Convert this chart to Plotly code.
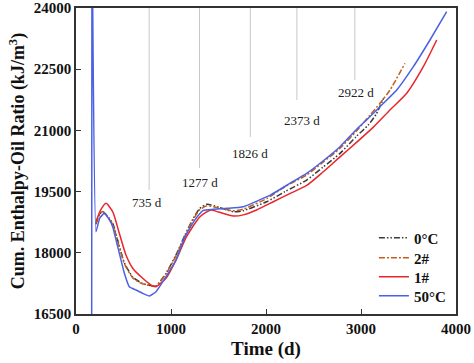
import plotly.graph_objects as go

# ---- data ----
t_0C = [210, 250, 281, 330, 386, 440, 510, 600, 700, 800, 842, 947, 1053, 1150, 1235, 1300, 1376, 1500, 1656, 1761, 2007, 2200, 2428, 2600, 2779, 2950, 3077, 3160, 3240]
y_0C = [18700, 18950, 19007, 18900, 18723, 18300, 17750, 17400, 17250, 17190, 17186, 17498, 17950, 18450, 18846, 19080, 19189, 19120, 19007, 19032, 19252, 19500, 19784, 20100, 20437, 20850, 21132, 21400, 21800]

t_2 = [210, 250, 281, 330, 386, 440, 510, 600, 700, 800, 842, 947, 1053, 1150, 1235, 1300, 1376, 1500, 1656, 1761, 2007, 2200, 2428, 2600, 2779, 2950, 3095, 3200, 3305, 3463]
y_2 = [18720, 18960, 19010, 18880, 18700, 18280, 17730, 17380, 17240, 17190, 17190, 17480, 17930, 18430, 18820, 19050, 19150, 19100, 19030, 19070, 19330, 19620, 19907, 20220, 20561, 20980, 21377, 21664, 21990, 22645]

t_1 = [210, 260, 316, 386, 456, 526, 597, 702, 807, 842, 947, 1053, 1165, 1305, 1420, 1500, 1656, 1761, 1900, 2077, 2250, 2428, 2600, 2779, 2950, 3130, 3305, 3481, 3656, 3797]
y_1 = [18762, 19050, 19213, 19007, 18477, 17946, 17621, 17375, 17186, 17169, 17375, 17824, 18400, 18885, 19049, 19000, 18902, 18930, 19050, 19252, 19450, 19650, 19980, 20350, 20700, 21080, 21500, 21909, 22562, 23216]

t_50 = [165, 168, 210, 250, 298, 340, 386, 439, 509, 561, 632, 702, 772, 842, 947, 1053, 1147, 1250, 1340, 1445, 1600, 1761, 2050, 2250, 2428, 2600, 2779, 2955, 3077, 3200, 3376, 3551, 3726, 3902]
y_50 = [16000, 26000, 18517, 18850, 18968, 18850, 18640, 18150, 17498, 17169, 17088, 17007, 16941, 17047, 17415, 17824, 18395, 18800, 19040, 19066, 19090, 19130, 19420, 19700, 19948, 20250, 20600, 21030, 21297, 21581, 21990, 22562, 23216, 23909]

series_names = ["0°C", "2#", "1#", "50°C"]

mark_x = [770, 1300, 1835, 2325, 2935]
mark_top = [24000, 24000, 24000, 24000, 24000]
mark_bottom = [19540, 20080, 20840, 21745, 22235]
mark_labels = ["735 d", "1277 d", "1826 d", "2373 d", "2922 d"]
mark_label_x = [745, 1300, 1830, 2380, 2945]
mark_label_y = [19221, 19735, 20446, 21255, 21941]

x_ticks = [0, 1000, 2000, 3000, 4000]
y_ticks = [16500, 18000, 19500, 21000, 22500, 24000]

SERIF = "Liberation Serif"

series = [
    (t_0C, y_0C, dict(color="#3a3a3a", width=1.5, dash="6px,2px,1.5px,2px,1.5px,2px", shape="spline", smoothing=0.6)),
    (t_2, y_2, dict(color="#c0601c", width=1.5, dash="6px,2px,2px,2px", shape="spline", smoothing=0.6)),
    (t_1, y_1, dict(color="#e8262c", width=1.5, shape="spline", smoothing=0.6)),
    (t_50, y_50, dict(color="#4b61e3", width=1.5, shape="spline", smoothing=0.4)),
]
legend_ids = ["legend", "legend2", "legend3", "legend4"]
legend_y = [0.248, 0.183, 0.121, 0.059]

fig = go.Figure()
for (tx, ty, ln), name, lid in zip(series, series_names, legend_ids):
    fig.add_trace(go.Scatter(x=tx, y=ty, mode="lines", name="<b>%s</b>" % name,
                             line=ln, legend=lid))

for xv, y0, y1 in zip(mark_x, mark_bottom, mark_top):
    fig.add_shape(type="line", x0=xv, x1=xv, y0=y0, y1=y1, xref="x", yref="y",
                  line=dict(color="#c8c8c8", width=1), layer="below")
for xv, yv, txt in zip(mark_label_x, mark_label_y, mark_labels):
    fig.add_annotation(x=xv, y=yv, text=txt, showarrow=False, xref="x", yref="y",
                       font=dict(family=SERIF, size=13, color="#222"))

legends = {}
for lid, ly in zip(legend_ids, legend_y):
    legends[lid] = dict(x=0.784, y=ly, xanchor="left", yanchor="middle",
                        bgcolor="rgba(0,0,0,0)", font=dict(family=SERIF, size=15, color="#111"),
                        itemwidth=30, borderwidth=0)

fig.update_layout(
    width=474, height=363,
    margin=dict(l=76, r=18, t=8, b=49, autoexpand=False),
    paper_bgcolor="white", plot_bgcolor="white",
    font=dict(family=SERIF, color="#111"),
    showlegend=True,
    **legends,
)
fig.update_xaxes(range=[0, 4000], tickvals=x_ticks, ticktext=["<b>%d</b>" % v for v in x_ticks],
                 ticks="inside", ticklen=5, tickwidth=1.2, tickcolor="#333",
                 showline=True, linecolor="#333", linewidth=1.5, mirror=True, showgrid=False,
                 zeroline=False, automargin=False,
                 tickfont=dict(family=SERIF, size=15, color="#111"),
                 title=dict(text="<b>Time (d)</b>", font=dict(family=SERIF, size=19, color="#111"), standoff=6))
fig.update_yaxes(range=[16500, 24000], tickvals=y_ticks, ticktext=["<b>%d</b>" % v for v in y_ticks],
                 ticks="inside", ticklen=5, tickwidth=1.2, tickcolor="#333",
                 showline=True, linecolor="#333", linewidth=1.5, mirror=True, showgrid=False,
                 zeroline=False, automargin=False,
                 tickfont=dict(family=SERIF, size=15, color="#111"),
                 title=dict(text="<b>Cum. Enthalpy-Oil Ratio (kJ/m<sup>3</sup>)</b>",
                            font=dict(family=SERIF, size=18, color="#111"), standoff=4))

fig.write_html("out.html", config={"displayModeBar": False},
               post_script="document.body.style.margin='0';document.body.style.overflow='hidden';")
